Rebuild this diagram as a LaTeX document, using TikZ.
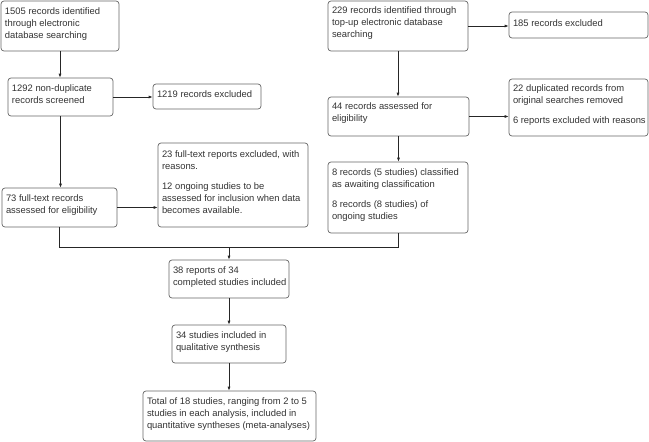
\documentclass[tikz,border=0pt]{standalone}
\usepackage{fontspec}
\setmainfont{Liberation Sans}
\usetikzlibrary{arrows.meta}
\newcommand{\mybox}[7][7]{%
  \pgfmathsetmacro\bw{#5-#3}\pgfmathsetmacro\bh{#6-#4}%
  \pgfmathsetmacro\bcx{(#3+#5)/2}\pgfmathsetmacro\bcy{(#4+#6)/2}%
  \pgfmathsetmacro\tw{\bw-8}\pgfmathsetmacro\twx{\bw+4}\pgfmathsetmacro\th{\bh-2*#1}%
  \node[boxst, inner ysep=#1pt, minimum width=\bw pt, minimum height=\bh pt] (#2) at (\bcx,\bcy)
    {\parbox[c][\th pt][t]{\twx pt}{\raggedright #7}\hspace*{-12pt}};}
\newcommand{\pgap}{\par\vspace{8pt}}
\begin{document}
\begin{tikzpicture}[x=1pt,y=-1pt,
  boxst/.style={draw=black!60, line width=0.7pt, rounded corners=3pt, inner xsep=4pt,
    text=black!80, font=\fontsize{9.4}{12}\selectfont},
  conn/.style={draw=black!85, line width=0.7pt},
  arr/.style={conn, -{Latex[length=4pt,width=3pt]}}]
\useasboundingbox (0,0) rectangle (649,442);
\mybox{b1}{1}{1}{119}{51}{1505 records identified\\through electronic\\database searching}
\mybox{b2}{8}{78}{113}{116}{1292 non-duplicate\\records screened}
\mybox{b1219}{153}{84}{261}{109}{1219 records excluded}
\mybox[6]{b229}{328}{1}{468}{51}{229 records identified through\\top-up electronic database\\searching}
\mybox[8]{b185}{509}{12}{648}{38}{185 records excluded}
\mybox[6]{b44}{328}{97}{469}{136}{44 records assessed for\\eligibility}
\mybox[6]{b22}{509}{79}{648}{136}{22 duplicated records from\\original searches removed\pgap 6 reports excluded with reasons}
\mybox{b73}{2}{188}{117}{227}{73 full-text records\\assessed for eligibility}
\mybox[8]{b23}{158}{143}{308}{227}{23 full-text reports excluded, with\\reasons.\pgap 12 ongoing studies to be\\assessed for inclusion when data\\becomes available.}
\mybox{b8}{328}{162}{468}{233}{8 records (5 studies) classified\\as awaiting classification\pgap 8 records (8 studies) of\\ongoing studies}
\mybox{b38}{169}{260}{289}{298}{38 reports of 34\\completed studies included}
\mybox{b34}{172}{325}{286}{363}{34 studies included in\\qualitative synthesis}
\mybox{bT}{143}{391}{316}{441}{Total of 18 studies, ranging from 2 to 5\\studies in each analysis, included in\\quantitative syntheses (meta-analyses)}
\coordinate (m) at (229,247);
\draw[arr] (b1.south) -- (b1.south |- b2.north);
\draw[arr] (b2.east) -- (b2.east -| b1219.west);
\draw[arr] (b2.south) -- (b2.south |- b73.north);
\draw[arr] (b73.east) -- (b73.east -| b23.west);
\draw[arr] (b229.east) -- (b229.east -| b185.west);
\draw[arr] (b229.south) -- (b229.south |- b44.north);
\draw[arr] (b44.east) -- (b44.east -| b22.west);
\draw[arr] (b44.south) -- (b44.south |- b8.north);
\draw[conn] (b73.south) |- (m);
\draw[conn] (b8.south) |- (m);
\draw[arr] (m) -- (m |- b38.north);
\draw[arr] (b38.south) -- (b38.south |- b34.north);
\draw[arr] (b34.south) -- (b34.south |- bT.north);
\end{tikzpicture}
\end{document}
